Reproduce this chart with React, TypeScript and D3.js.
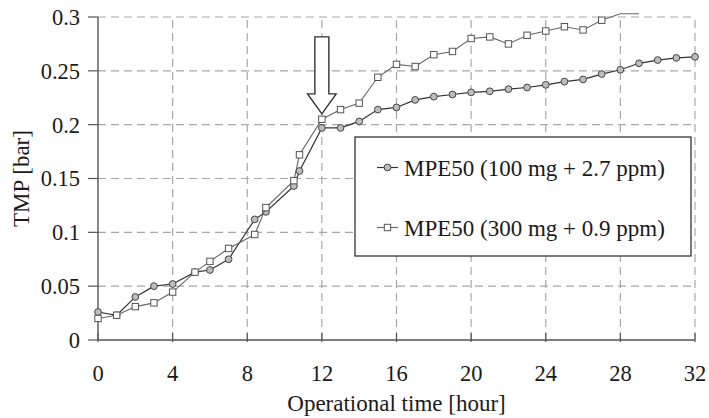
import React from "react";
import * as d3 from "d3";

const hoursA = [0, 1, 2, 3, 4, 5.2, 6, 7, 8.4, 9, 10.5, 10.8, 12, 13, 14, 15, 16, 17, 18, 19, 20, 21, 22, 23, 24, 25, 26, 27, 28, 29, 30, 31, 32];
const tmpA = [0.026, 0.023, 0.040, 0.050, 0.052, 0.063, 0.065, 0.075, 0.112, 0.119, 0.143, 0.157, 0.197, 0.197, 0.203, 0.214, 0.216, 0.223, 0.226, 0.228, 0.230, 0.231, 0.233, 0.2345, 0.237, 0.240, 0.242, 0.247, 0.251, 0.257, 0.260, 0.262, 0.263];

const hoursB = [0, 1, 2, 3, 4, 5.2, 6, 7, 8.4, 9, 10.5, 10.8, 12, 13, 14, 15, 16, 17, 18, 19, 20, 21, 22, 23, 24, 25, 26, 27, 28, 29];
const tmpB = [0.020, 0.023, 0.031, 0.0345, 0.0445, 0.063, 0.073, 0.085, 0.098, 0.123, 0.148, 0.172, 0.205, 0.214, 0.220, 0.244, 0.256, 0.254, 0.265, 0.268, 0.280, 0.2815, 0.275, 0.283, 0.287, 0.291, 0.288, 0.297, 0.303, 0.303];

const seriesNames = ["MPE50 (100 mg + 2.7 ppm)", "MPE50 (300 mg + 0.9 ppm)"];
const xTicks = [0, 4, 8, 12, 16, 20, 24, 28, 32];
const yTicks = [0, 0.05, 0.1, 0.15, 0.2, 0.25, 0.3];
const yTickLabels = ["0", "0.05", "0.1", "0.15", "0.2", "0.25", "0.3"];
const xTitle = "Operational time [hour]";
const yTitle = "TMP [bar]";
// arrow annotation: hour, top value, head-base value, tip value
const arrowHour = 12;
const arrowVals = [0.2815, 0.2286, 0.21];

const FONT = "'Liberation Serif', 'Times New Roman', serif";

export default function App() {
  const W = 709, H = 418;
  const x0 = 98, x1 = 695, y0 = 340, y1 = 17;
  const x = d3.scaleLinear().domain([0, 32]).range([x0, x1]);
  const y = d3.scaleLinear().domain([0, 0.3]).range([y0, y1]);

  const dataA = hoursA.map((h, i) => [h, tmpA[i]] as [number, number]);
  const dataB = hoursB.map((h, i) => [h, tmpB[i]] as [number, number]);
  const line = d3.line<[number, number]>().x(d => x(d[0])).y(d => y(d[1]));

  const grid = "#a8a8a8";
  const axisC = "#555";
  const textC = "#1a1a1a";

  const ax = x(arrowHour);
  const aTop = y(arrowVals[0]);
  const aBase = y(arrowVals[1]);
  const aTip = y(arrowVals[2]);
  const shaftHalf = 7, headHalf = 14.3;
  const arrowPath = `M${ax - shaftHalf},${aTop} L${ax + shaftHalf},${aTop} L${ax + shaftHalf},${aBase} L${ax + headHalf},${aBase} L${ax},${aTip} L${ax - headHalf},${aBase} L${ax - shaftHalf},${aBase} Z`;

  const sq = 6.4;
  const cr = 3.4;

  return (
    <svg width={W} height={H} style={{ position: "absolute", left: 0, top: 0, background: "#fff" }} fontFamily={FONT}>
      <rect x={0} y={0} width={W} height={H} fill="#fff" />
      {/* gridlines */}
      {yTicks.filter(t => t > 0).map(t => (
        <line key={"gy" + t} x1={x0} x2={x1} y1={y(t)} y2={y(t)} stroke={grid} strokeWidth={1.2} strokeDasharray="8,5" />
      ))}
      {xTicks.filter(t => t > 0).map(t => (
        <line key={"gx" + t} x1={x(t)} x2={x(t)} y1={y0} y2={y1} stroke={grid} strokeWidth={1.2} strokeDasharray="8,5" />
      ))}
      {/* axes */}
      <line x1={x0} x2={x0} y1={y1} y2={y0} stroke={axisC} strokeWidth={1.4} />
      <line x1={x0} x2={x1} y1={y0} y2={y0} stroke={axisC} strokeWidth={1.4} />
      {yTicks.map(t => (
        <line key={"ty" + t} x1={x0 - 10} x2={x0} y1={y(t)} y2={y(t)} stroke={axisC} strokeWidth={1.2} />
      ))}
      {xTicks.map(t => (
        <line key={"tx" + t} x1={x(t)} x2={x(t)} y1={y0 - 7} y2={y0 + 2} stroke={axisC} strokeWidth={1.2} />
      ))}
      {yTicks.map((t, i) => (
        <text key={"ly" + t} x={80} y={y(t)} dy="0.35em" textAnchor="end" fontSize={22.5} fill={textC}>{yTickLabels[i]}</text>
      ))}
      {xTicks.map(t => (
        <text key={"lx" + t} x={x(t)} y={381} textAnchor="middle" fontSize={22.5} fill={textC}>{t}</text>
      ))}
      <text x={(x0 + x1) / 2} y={411} textAnchor="middle" fontSize={23} fill={textC}>{xTitle}</text>
      <text transform={`translate(29,${(y0 + y1) / 2}) rotate(-90)`} textAnchor="middle" fontSize={23} fill={textC}>{yTitle}</text>

      {/* series A */}
      <path d={line(dataA) || ""} fill="none" stroke="#333" strokeWidth={1.2} />
      {dataA.filter(d => d[1] <= 0.3).map((d, i) => (
        <circle key={"ca" + i} cx={x(d[0])} cy={y(d[1])} r={cr} fill="#bdbdbd" stroke="#444" strokeWidth={1} />
      ))}
      {/* series B */}
      <path d={line(dataB) || ""} fill="none" stroke="#666" strokeWidth={1.1} />
      {dataB.filter(d => d[1] <= 0.3).map((d, i) => (
        <rect key={"sb" + i} x={x(d[0]) - sq / 2} y={y(d[1]) - sq / 2} width={sq} height={sq} fill="#fff" stroke="#555" strokeWidth={1} />
      ))}

      {/* arrow */}
      <path d={arrowPath} fill="#fff" stroke="#333" strokeWidth={1.4} strokeLinejoin="miter" />

      {/* legend */}
      <rect x={355} y={137} width={336} height={119} fill="#fff" stroke="#333" strokeWidth={1.3} />
      <line x1={377} x2={398} y1={167.5} y2={167.5} stroke="#333" strokeWidth={1.2} />
      <circle cx={387.5} cy={167.5} r={cr} fill="#bdbdbd" stroke="#444" strokeWidth={1} />
      <text x={404} y={175.5} fontSize={23} fill={textC}>{seriesNames[0]}</text>
      <line x1={377} x2={398} y1={227.5} y2={227.5} stroke="#666" strokeWidth={1.1} />
      <rect x={387.5 - sq / 2} y={227.5 - sq / 2} width={sq} height={sq} fill="#fff" stroke="#555" strokeWidth={1} />
      <text x={404} y={235.5} fontSize={23} fill={textC}>{seriesNames[1]}</text>
    </svg>
  );
}
